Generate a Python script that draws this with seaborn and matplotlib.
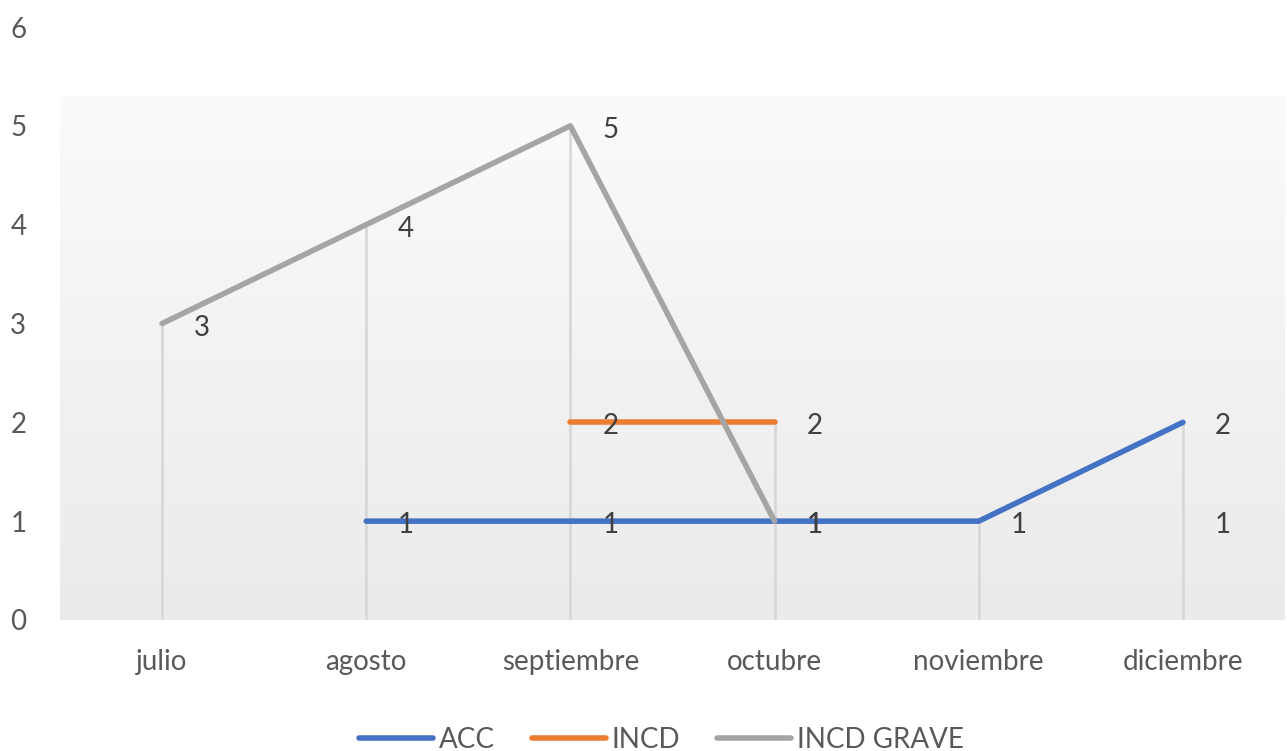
import numpy as np
import pandas as pd
import matplotlib
matplotlib.use("Agg")
import matplotlib.pyplot as plt
import seaborn as sns

# Monthly counts per incident type (NaN = no record that month)
months = ["julio", "agosto", "septiembre", "octubre", "noviembre", "diciembre"]
acc = [np.nan, 1, 1, 1, 1, 2]
incd = [np.nan, np.nan, 2, 2, np.nan, np.nan]
incd_grave = [3, 4, 5, 1, np.nan, 1]

series_names = ["ACC", "INCD", "INCD GRAVE"]
series_values = [acc, incd, incd_grave]
palette = {"ACC": "#4472C4", "INCD": "#ED7D31", "INCD GRAVE": "#A5A5A5"}

# Long-form table; each unbroken run of values gets its own segment id
rows = []
for name, vals in zip(series_names, series_values):
    seg = 0
    prev_nan = True
    for i, v in enumerate(vals):
        if np.isnan(v):
            prev_nan = True
            continue
        if prev_nan:
            seg += 1
        prev_nan = False
        rows.append({"mes": i, "valor": v, "serie": name, "seg": f"{name}-{seg}"})
df = pd.DataFrame(rows)

sns.set_theme(style="white")
plt.rcParams["font.family"] = ["Lato", "DejaVu Sans"]
FS = 20

fig = plt.figure(figsize=(12.87, 7.51), dpi=100)
ax = fig.add_axes([60 / 1287, 1 - 620 / 751, 1225 / 1287, 593 / 751])

# Soft vertical gradient behind the plot area
grad = np.linspace(0.0, 1.0, 256).reshape(-1, 1)
cmap = matplotlib.colors.LinearSegmentedColormap.from_list("bg", ["#ebebeb", "#f2f2f2", "#fbfbfb"])
ax.imshow(grad, aspect="auto", cmap=cmap, origin="lower",
          extent=[0, 1, 0, 0.882], transform=ax.transAxes, zorder=0)

# Drop lines from the highest value of each month down to zero
arr = np.array(series_values, dtype=float)
tops = np.nanmax(arr, axis=0)
ax.vlines(np.arange(len(months)), 0, tops, color="#d6d6d6", lw=1.8, zorder=1)

sns.lineplot(data=df, x="mes", y="valor", hue="serie", units="seg", estimator=None,
             palette=palette, hue_order=series_names, linewidth=4.0,
             sort=False, ax=ax, zorder=3,
             solid_capstyle="round", solid_joinstyle="round")

# Value labels to the right of each point
for name, vals in zip(series_names, series_values):
    for i, v in enumerate(vals):
        if np.isnan(v):
            continue
        ax.annotate(f"{v:g}", (i, v), xytext=(40, -4), textcoords="offset pixels",
                    ha="center", va="center", fontsize=FS, color="#404040", zorder=4)

ax.set_xlim(-0.5, len(months) - 0.5)
ax.set_ylim(0, 6)
ax.set_xticks(range(len(months)))
ax.set_xticklabels(months)
ax.set_yticks(range(0, 7))
ax.tick_params(axis="both", labelsize=FS, labelcolor="#595959", length=0)
ax.tick_params(axis="x", pad=21)
ax.tick_params(axis="y", pad=30)
for lab in ax.get_yticklabels():
    lab.set_horizontalalignment("center")
ax.set_xlabel("")
ax.set_ylabel("")
for s in ax.spines.values():
    s.set_visible(False)
ax.set_facecolor("white")

sns.move_legend(ax, "center", bbox_to_anchor=(0.491, -0.202), ncol=3, frameon=False,
                title=None, fontsize=FS, handlelength=2.65, handletextpad=0.2,
                columnspacing=1.35)
leg = ax.get_legend()
for t in leg.get_texts():
    t.set_color("#595959")
for h in leg.get_lines():
    h.set_linewidth(4.0)
    h.set_solid_capstyle("round")

fig.savefig("out.png", dpi=100)
